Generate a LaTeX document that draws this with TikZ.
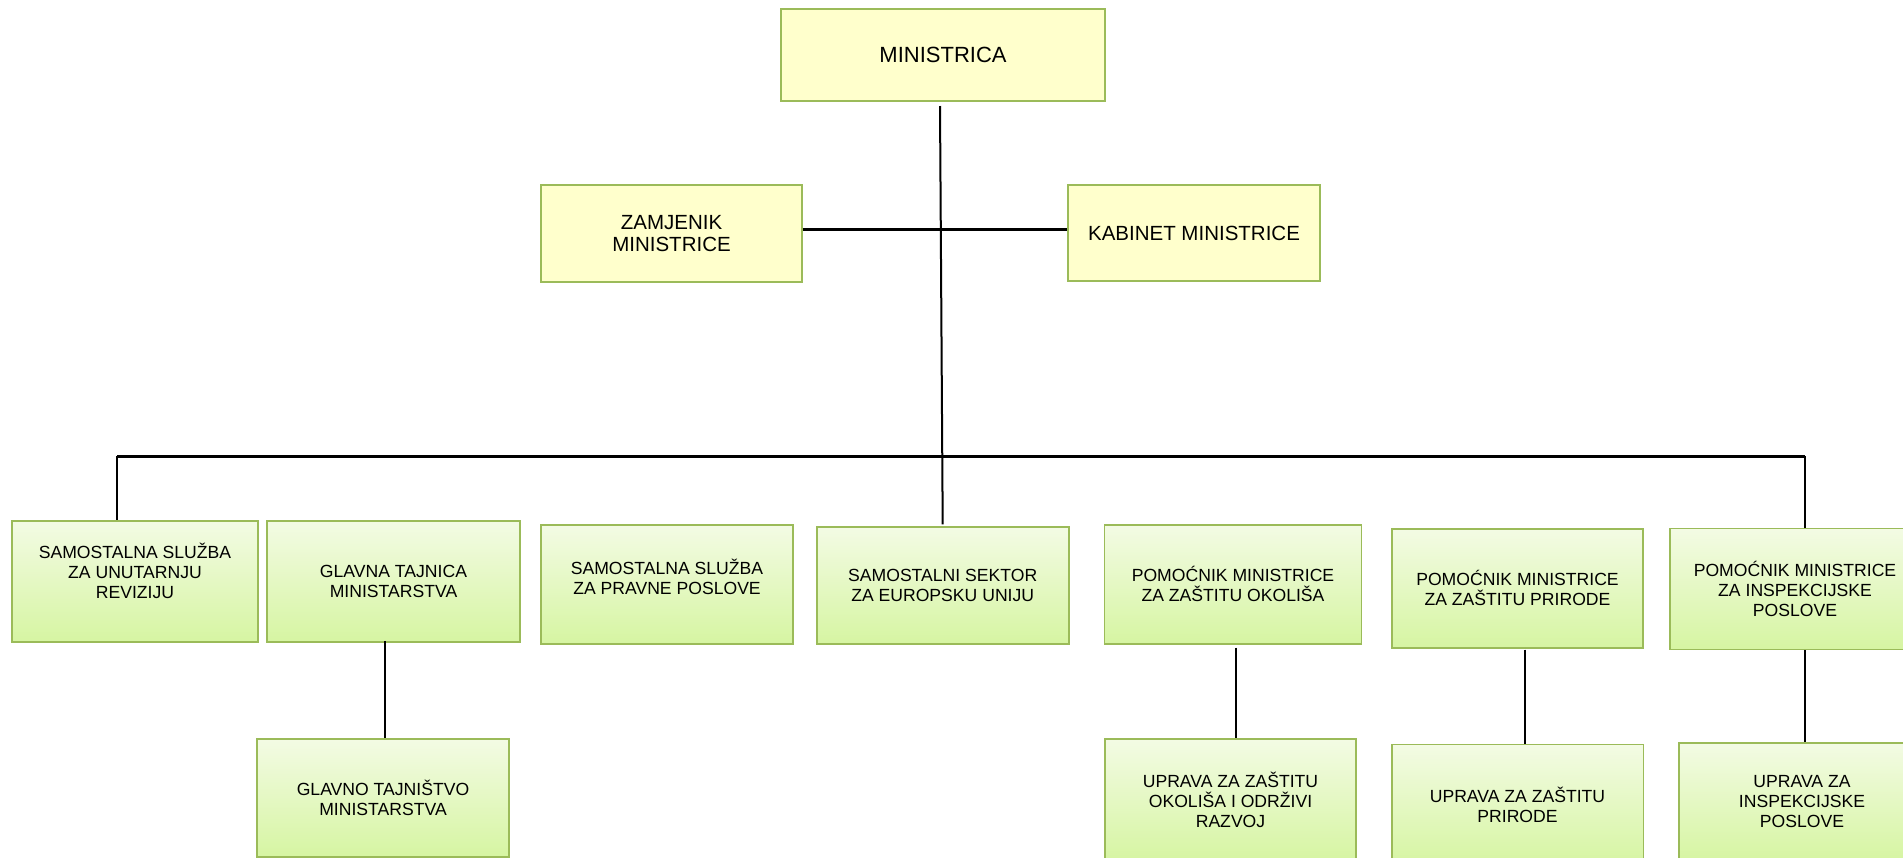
\documentclass[tikz,border=0pt]{standalone}
\usepackage{fontspec}
\setmainfont{Liberation Sans}
\definecolor{ybox}{RGB}{255,255,204}
\definecolor{gborder}{RGB}{155,187,89}
\definecolor{gtop}{RGB}{243,251,228}
\definecolor{gbot}{RGB}{214,245,162}
\tikzset{
  ybox/.style={draw=gborder, line width=1.6pt, fill=ybox, align=center, inner sep=0pt},
  gbox/.style={draw=gborder, line width=1.6pt, top color=gtop, bottom color=gbot, align=center, inner sep=0pt,
    font=\fontsize{17.6}{20}\selectfont},
  txt/.style={align=center, inner sep=0pt, font=\fontsize{17.6}{20}\selectfont},
  conn/.style={line width=2pt, black},
  bus/.style={line width=3pt, black}
}
\begin{document}
\begin{tikzpicture}[x=1pt, y=-1pt]
\useasboundingbox (0,0) rectangle (1903,857);
\clip (0,0) rectangle (1903,857);
\fill[white] (0,0) rectangle (1903,857);

% top level
\node[ybox, minimum width=324pt, minimum height=92pt, font=\fontsize{22}{25}\selectfont] (min) at (943,55) {MINISTRICA};
\node[ybox, minimum width=261pt, minimum height=97pt, font=\fontsize{20.5}{22.7}\selectfont] (zam) at (671.5,233.5) {ZAMJENIK\\MINISTRICE};
\node[ybox, minimum width=252pt, minimum height=96pt, font=\fontsize{20.5}{22.7}\selectfont] (kab) at (1194,233) {KABINET MINISTRICE};

% second level
\node[gbox, minimum width=246pt, minimum height=121pt] (b1) at (135,581.5) {};
\node[txt] (b1t) at ([yshift=11pt]b1.center) {SAMOSTALNA SLUŽBA\\ZA UNUTARNJU\\REVIZIJU};
\node[gbox, minimum width=253pt, minimum height=121pt] (b2) at (393.5,581.5) {GLAVNA TAJNICA\\MINISTARSTVA};
\node[gbox, minimum width=252pt, minimum height=119pt] (b3) at (667,584.3) {};
\node[txt] (b3t) at ([yshift=7.5pt]b3.center) {SAMOSTALNA SLUŽBA\\ZA PRAVNE POSLOVE};
\node[gbox, minimum width=252pt, minimum height=117pt] (b4) at (942.7,585.7) {SAMOSTALNI SEKTOR\\ZA EUROPSKU UNIJU};
\node[gbox, minimum width=257pt, minimum height=119pt] (b5) at (1233,584.4) {POMOĆNIK MINISTRICE\\ZA ZAŠTITU OKOLIŠA};
\node[gbox, minimum width=251pt, minimum height=119pt] (b6) at (1517.5,588.4) {POMOĆNIK MINISTRICE\\ZA ZAŠTITU PRIRODE};
\node[gbox, minimum width=250pt, minimum height=121pt] (b7) at (1795,589) {POMOĆNIK MINISTRICE\\ZA INSPEKCIJSKE\\POSLOVE};

% third level
\node[gbox, minimum width=252pt, minimum height=118pt] (c2) at (383,798) {GLAVNO TAJNIŠTVO\\MINISTARSTVA};
\node[gbox, minimum width=251pt, minimum height=122pt] (c5) at (1230.5,800) {UPRAVA ZA ZAŠTITU\\OKOLIŠA I ODRŽIVI\\RAZVOJ};
\node[gbox, minimum width=251.6pt, minimum height=120pt] (c6) at (1517.5,804.5) {UPRAVA ZA ZAŠTITU\\PRIRODE};
\node[gbox, minimum width=246pt, minimum height=118pt] (c7) at (1802,801.7) {UPRAVA ZA\\INSPEKCIJSKE\\POSLOVE};

% connector helper coordinates
\coordinate (mtop) at (940,106);
\coordinate (hy) at (0,229);
\coordinate (busL) at (117,456);
\coordinate (busR) at (1805,456);
\coordinate (x2) at (384.7,0);
\coordinate (x5) at (1236,0);
\coordinate (x6) at (1525,0);
\coordinate (x7) at (1805,0);

% connectors
\draw[conn] (mtop) -- ([yshift=2pt]b4.north);
\draw[bus] (zam.east |- hy) -- (kab.west |- hy);
\draw[bus] (busL) -- (busR);
\draw[conn] (busL) -- (busL |- b1.north);
\draw[conn] (busR) -- (busR |- b7.north);
\draw[conn] ([yshift=2pt]b2.south -| x2) -- (c2.north -| x2);
\draw[conn] ([yshift=-3pt]b5.south -| x5) -- (c5.north -| x5);
\draw[conn] ([yshift=-1pt]b6.south -| x6) -- (c6.north -| x6);
\draw[conn] (b7.south -| x7) -- (c7.north -| x7);
\end{tikzpicture}
\end{document}
